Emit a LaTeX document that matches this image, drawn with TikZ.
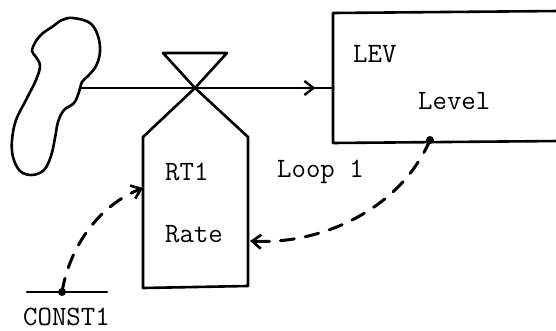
\documentclass[tikz,border=0pt]{standalone}
\usetikzlibrary{arrows.meta,decorations.markings}
\tikzset{
  solidline/.style={line width=2.6pt, line join=round, line cap=round},
  infoline/.style={line width=3pt, dash pattern=on 14pt off 11pt, line cap=round},
  barb/.style={-{Straight Barb[length=9pt,width=14pt,line width=2.6pt]}},
  lbl/.style={font=\ttfamily\fontsize{28}{32}\selectfont, inner sep=0pt, anchor=base west},
  dotn/.style={circle, fill=black, inner sep=0pt, minimum size=8pt},
  midarrow/.style={postaction={decorate}, decoration={markings,
     mark=at position 0.93 with {\arrow{Straight Barb[length=9pt,width=14pt,line width=2.4pt]}}}}
}
\begin{document}
\begin{tikzpicture}[x=1pt,y=-1pt]
\useasboundingbox (0,0) rectangle (556,331);
% source cloud
\draw[solidline] plot[smooth cycle, tension=0.6] coordinates {
 (73,18) (90,23) (98,36) (100,52) (96,66) (88,76) (82,82) (79,92) (74,103)
 (64,110) (58,122) (55,138) (51,156) (44,170) (32,175) (20,171) (13,157)
 (12,140) (16,120) (26,100) (36,80) (40,66) (36,57) (32,51) (36,41) (43,33) (52,27) (62,20)};
\coordinate (src) at (81,88);
\coordinate (valve) at (195,88);
% level box
\coordinate (levL) at (333,88);
\draw[solidline] (560,11) -- (333,13) -- (333,143) -- (560,141);
\node[lbl] (lev) at (353,63) {LEV};
\node[lbl] (level) at (418,110) {Level};
% flow line
\draw[solidline, midarrow] (src) -- (levL);
% valve
\draw[solidline] (valve) -- (163,53) -- (227,53) -- cycle;
% rate box
\draw[solidline] (valve) -- (143,137) -- (143,288) -- (248,286) -- (248,137) -- cycle;
\node[lbl] (rt1) at (165,180) {RT1};
\node[lbl] (rate) at (165,242) {Rate};
\node[lbl] (loop) at (277,178) {Loop 1};
% info links
\coordinate (levout) at (430,140);
\node[dotn] (lvdot) at (levout) {};
\coordinate (ratein) at (250,241);
\draw[infoline, barb] (levout) .. controls (400,210) and (320,245) .. (ratein);
\node[dotn] (cdot) at (62,292) {};
\draw[solidline] (27,292) -- (107,292);
\node[lbl] (const) at (23,325) {CONST1};
\coordinate (rtin) at (143,188);
\draw[infoline, barb] (cdot.center) .. controls (70,245) and (100,205) .. (rtin);
\end{tikzpicture}
\end{document}
